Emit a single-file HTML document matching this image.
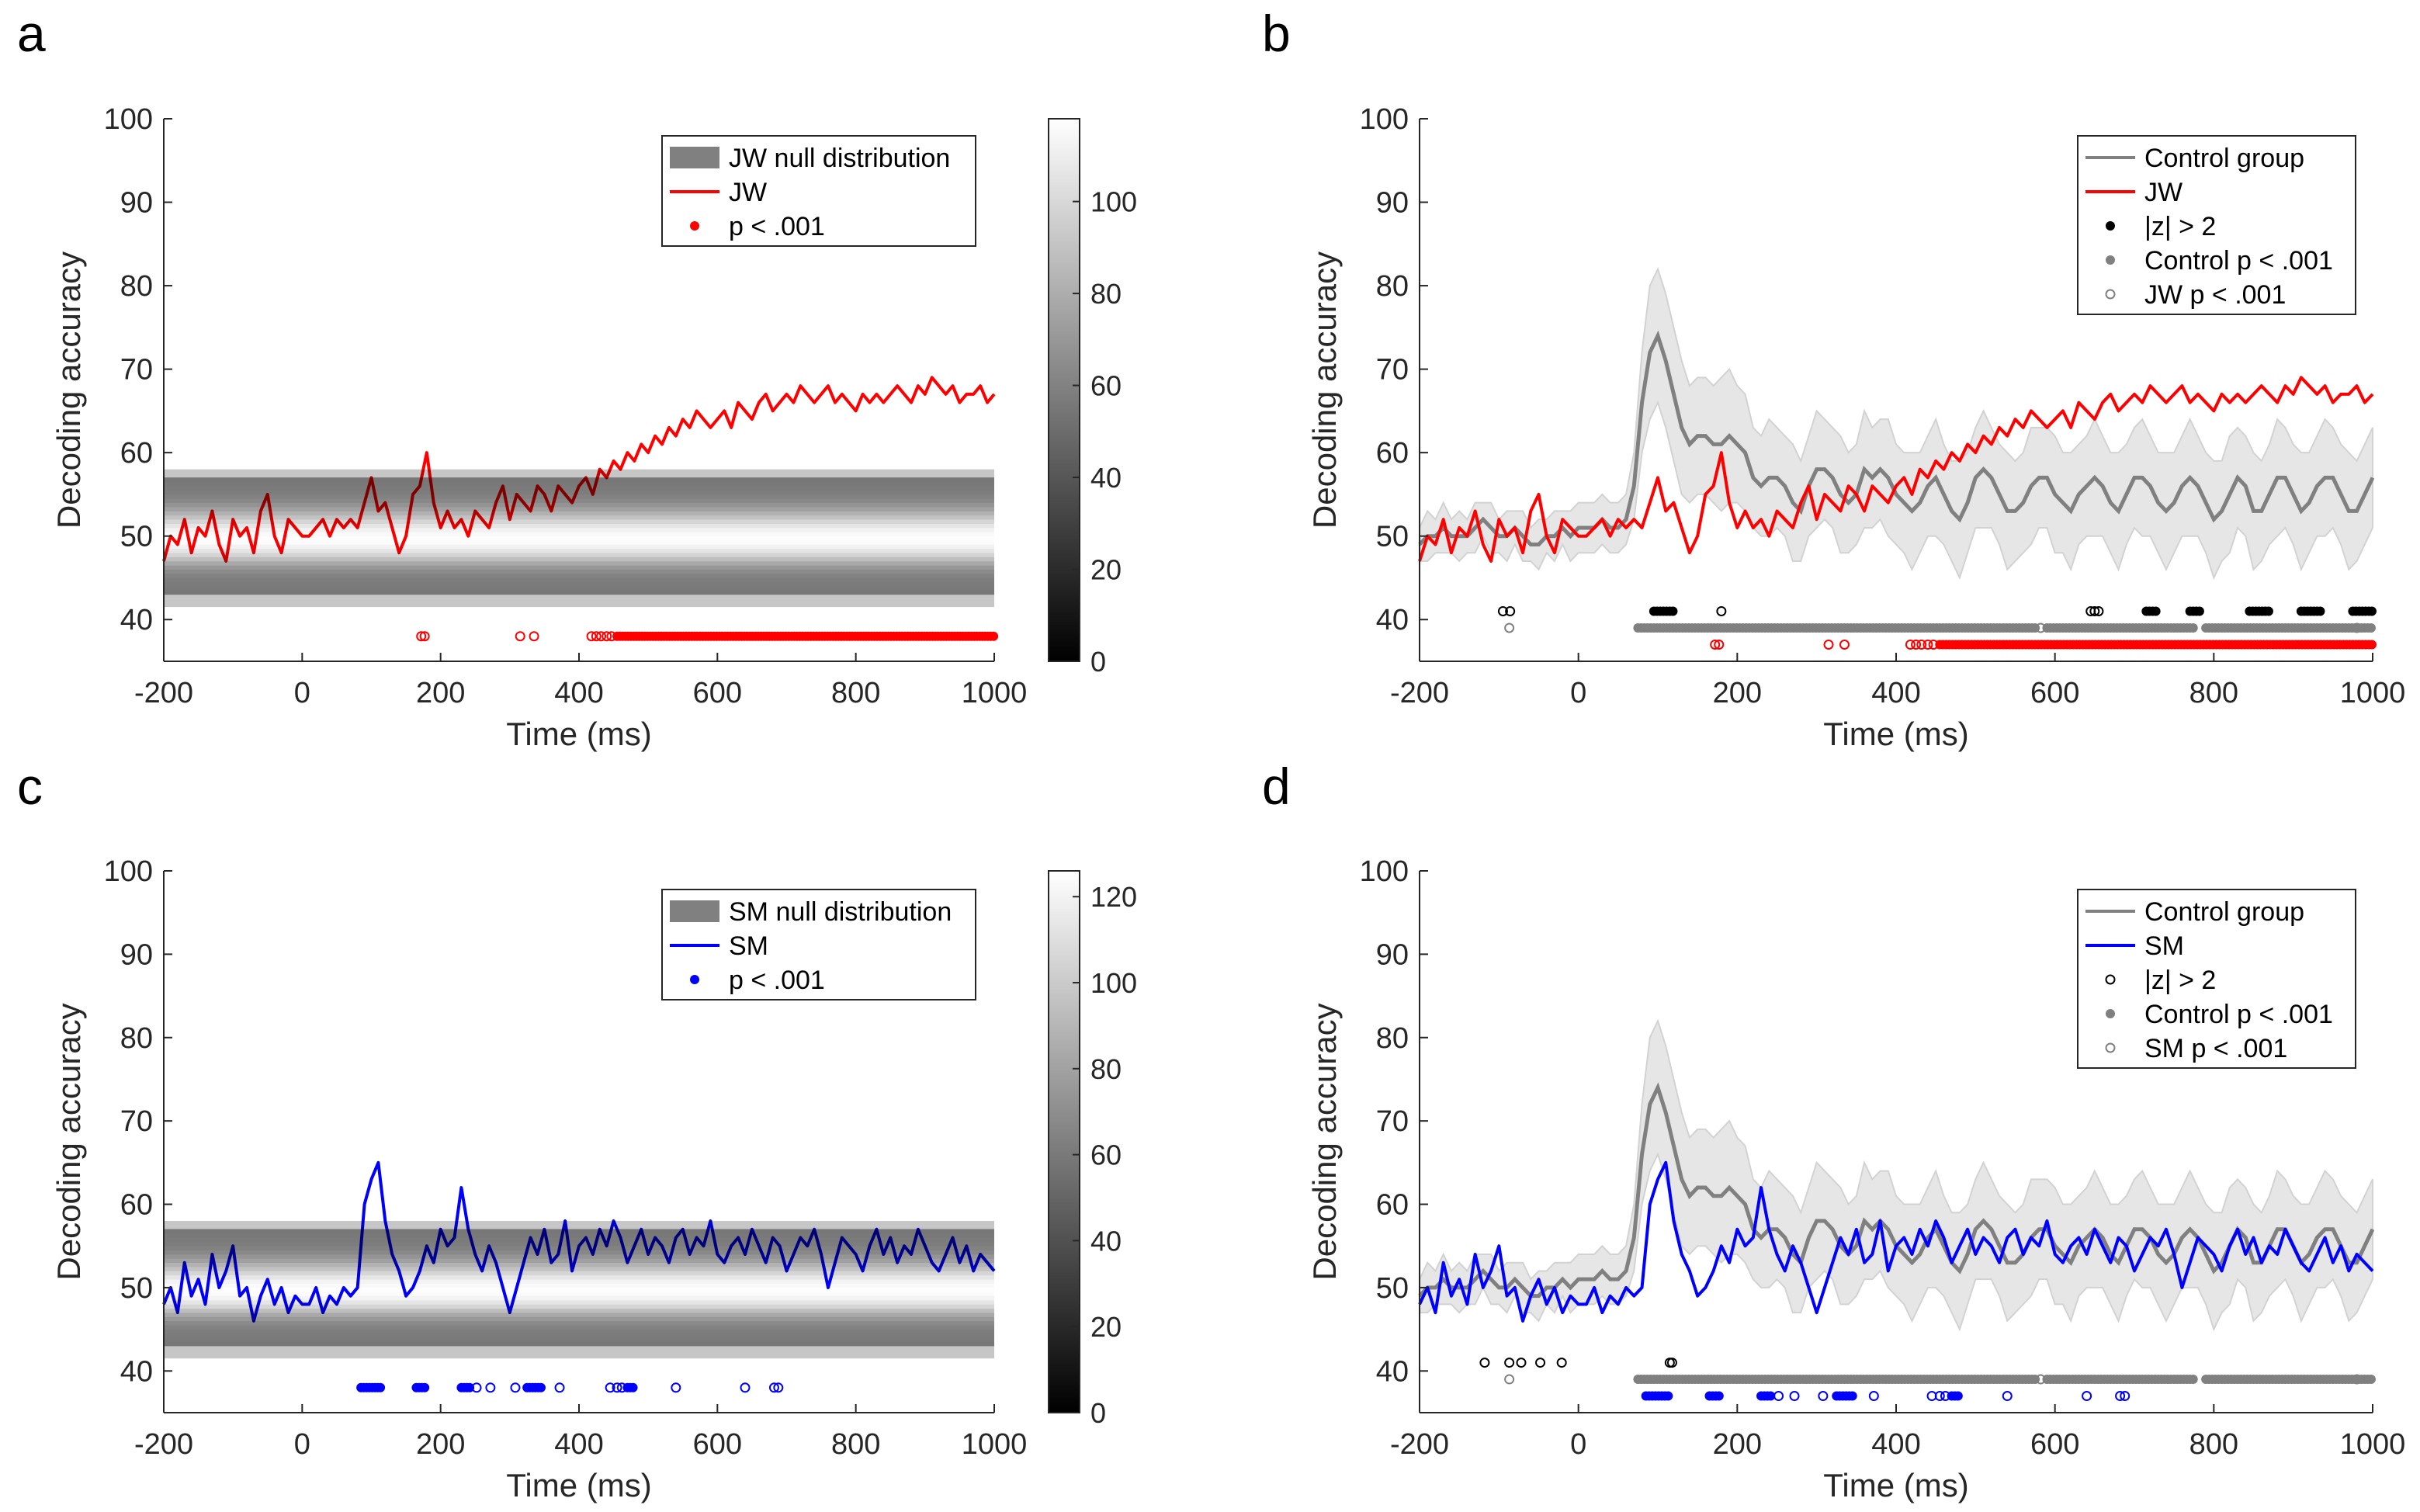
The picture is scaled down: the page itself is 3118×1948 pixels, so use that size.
<!DOCTYPE html>
<html><head><meta charset="utf-8"><style>
html,body{margin:0;padding:0;background:#fff;}
svg{display:block;font-family:"Liberation Sans",Arial,sans-serif;}
</style></head><body>
<svg id="fig" width="3118" height="1948" viewBox="0 0 3118 1948" xmlns="http://www.w3.org/2000/svg"></svg>
<script>
// ---------- data ----------
const times = []; for (let t=-200;t<=1000;t+=10) times.push(t);
const jwAcc = [47,50,49,52,48,51,50,53,49,47,52,50,51,48,53,55,50,48,52,51,50,
50,51,52,50,52,51,52,51,54,57,53,54,51,48,50,55,56,60,54,51,
53,51,52,50,53,52,51,54,56,52,55,54,53,56,55,53,56,55,54,56,
57,55,58,57,59,58,60,59,61,60,62,61,63,62,64,63,65,64,63,64,
65,63,66,65,64,66,67,65,66,67,66,68,67,66,67,68,66,67,66,65,
67,66,67,66,67,68,67,66,68,67,69,68,67,68,66,67,67,68,66,67];
const smAcc = [48,50,47,53,49,51,48,54,50,52,55,49,50,46,49,51,48,50,47,49,48,
48,50,47,49,48,50,49,50,60,63,65,58,54,52,49,50,52,55,53,57,
55,56,62,57,54,52,55,53,50,47,50,53,56,54,57,53,54,58,52,55,
56,54,57,55,58,56,53,55,57,54,56,55,53,56,57,54,56,55,58,54,
53,55,56,54,57,55,53,56,55,52,54,56,55,57,54,50,53,56,55,54,
52,55,57,54,56,53,55,54,57,55,53,52,54,56,53,55,52,54,53,52];
const ctrlMean = [49,50,50,51,50,50,50,51,52,51,50,50,51,50,49,49,50,50,51,50,51,
51,51,52,51,51,52,56,66,72,74,71,67,63,61,62,62,61,61,62,61,
60,57,56,57,57,56,54,53,56,58,58,57,55,54,55,58,57,58,57,55,
54,53,54,56,57,55,53,52,54,57,58,57,55,53,53,54,56,57,57,55,
54,53,55,56,57,56,54,53,55,57,57,56,54,53,54,56,57,56,54,52,
53,55,57,56,53,53,55,57,57,55,53,54,56,57,57,55,53,53,55,57];
const ctrlSd = [2,3,2,3,2,3,2,3,2,3,2,3,2,3,2,3,2,3,2,3,3,
3,3,3,3,3,3,4,6,8,8,8,8,8,7,7,7,7,8,8,7,
7,6,6,7,6,6,7,6,6,7,6,6,7,6,6,7,6,6,7,6,
6,7,6,6,7,6,6,7,6,6,7,6,6,7,6,6,7,6,6,7,
6,7,6,6,7,6,6,7,6,6,7,6,6,7,6,6,7,6,6,7,
6,7,6,6,7,6,6,7,6,6,7,6,6,7,6,6,7,6,6,6];
const nullBins = [43,43.5,44,44.5,45,45.5,46,46.5,47,47.5,48,48.5,49,49.5,50,50.5,51,51.5,52,52.5,53,53.5,54,54.5,55,55.5,56,56.5];
const nullCountsJW = [55,56,57,58,60,64,70,78,88,98,106,112,116,117,115,112,106,98,90,82,74,68,63,60,58,57,56,55];
const nullCountsSM = [59,60,61,62,64,68,75,83,94,105,113,120,124,125,123,120,113,105,96,88,79,73,67,64,62,61,60,59];
const nullSpeckleBins = [41.5,42,42.5,56.5+0.5,57.5];
const jwSigRuns = [[455,1000]];
const jwSigOpen = [172,177,315,335,418,425,432,440,447];
const smSigRuns = [[85,115],[165,180],[230,245],[325,345],[470,480]];
const smSigOpen = [252,272,308,372,445,455,462,540,640,682,688];
const zJWRuns = [[95,120],[715,730],[770,785],[845,870],[910,935],[975,1000]];
const zJWOpen = [-95,-86,180,645,650,655];
const zSMOpen = [-118,-87,-72,-48,-21,115,118];
const ctrlSigRuns = [[75,575],[590,775],[790,1000]];
const ctrlSigOpen = [-87,582,980];
const yTicks = [40,50,60,70,80,90,100];
const xTicks = [-200,0,200,400,600,800,1000];
const cbTicksA = [0,20,40,60,80,100];
const cbTicksC = [0,20,40,60,80,100,120];

const NS="http://www.w3.org/2000/svg";
const svgRoot=document.getElementById('fig');
function mk(tag,attrs,parent){const e=document.createElementNS(NS,tag);for(const k in attrs)e.setAttribute(k,attrs[k]);(parent||svgRoot).appendChild(e);return e;}
function txt(s,attrs,parent){const e=mk('text',attrs,parent);e.textContent=s;return e;}

function panel(P){
  const g=mk('g',{});
  
  
  const X=t=>P.x0+(t+200)/1200*(P.x1-P.x0);
  const Y=v=>P.yb-(v-35)/65*(P.yb-P.yt);
  if(P.control){
    let up='',lo='';
    times.forEach((t,i)=>{up+=(i?'L':'M')+X(t)+','+Y(ctrlMean[i]+ctrlSd[i]);});
    for(let i=times.length-1;i>=0;i--)lo+='L'+X(times[i])+','+Y(ctrlMean[i]-ctrlSd[i]);
    const band=mk('path',{d:up+lo+'Z',fill:'#e6e6e6',stroke:'#d2d2d2','stroke-width':2},g);
    
    
    const cl=mk('path',{d:times.map((t,i)=>(i?'L':'M')+X(t)+','+Y(ctrlMean[i])).join(''),fill:'none',stroke:'#808080','stroke-width':5},g);
    
    
  }
  const sl=mk('path',{d:times.map((t,i)=>(i?'L':'M')+X(t)+','+Y(P.series[i])).join(''),fill:'none',stroke:P.color,'stroke-width':4,'stroke-linejoin':'round'},g);
  
  
  if(P.nullCounts){
    const hm=mk('g',{style:'mix-blend-mode:multiply'},g);
    
    
    const mx=P.cbMax;
    nullBins.forEach((b,i)=>{
      const c=Math.round(255*Math.min(1,P.nullCounts[i]/mx));
      const r=mk('rect',{x:X(-200),y:Y(b+0.5)-0.3,width:X(1000)-X(-200),height:Y(b)-Y(b+0.5)+0.6,fill:`rgb(${c},${c},${c})`},hm);
      
      
    });
    nullSpeckleBins.forEach(b=>{
      const r=mk('rect',{x:X(-200),y:Y(b+0.5),width:X(1000)-X(-200),height:Y(b)-Y(b+0.5),fill:'#808080',opacity:0.45},hm);
      
      
    });
  }
  function markers(runs,opens,yv,col,name){
    const mg=mk('g',{},g);
    
    
    runs.forEach(r=>{for(let t=r[0];t<=r[1];t+=4)mk('circle',{cx:X(t),cy:Y(yv),r:6,fill:col},mg);});
    opens.forEach(t=>mk('circle',{cx:X(t),cy:Y(yv),r:5.5,fill:'none',stroke:col,'stroke-width':2},mg));
  }
  P.markers.forEach(m=>markers(m[0],m[1],m[2],m[3],m[4]));
  const ax=mk('g',{stroke:'#262626','stroke-width':2,fill:'none'},g);
  
  
  mk('line',{x1:P.x0,y1:P.yt,x2:P.x0,y2:P.yb},ax);
  mk('line',{x1:P.x0,y1:P.yb,x2:P.x1,y2:P.yb},ax);
  yTicks.forEach(v=>{mk('line',{x1:P.x0,y1:Y(v),x2:P.x0+11,y2:Y(v)},ax);
    const l=txt(v,{x:P.x0-14,y:Y(v)+13,'text-anchor':'end','font-size':38,fill:'#262626'},g);
    });
  xTicks.forEach(v=>{mk('line',{x1:X(v),y1:P.yb,x2:X(v),y2:P.yb-11},ax);
    const l=txt(v,{x:X(v),y:P.yb+53,'text-anchor':'middle','font-size':38,fill:'#262626'},g);
    });
  const xt=txt('Time (ms)',{x:(P.x0+P.x1)/2,y:P.yb+108,'text-anchor':'middle','font-size':42,fill:'#262626'},g);
  
  const ym=(P.yt+P.yb)/2;
  const yt=txt('Decoding accuracy',{x:P.x0-108,y:ym,'text-anchor':'middle','font-size':42,fill:'#262626',transform:`rotate(-90 ${P.x0-108} ${ym})`},g);
  
  const pl=txt(P.letter,{x:P.lx,y:P.ly,'font-size':66,fill:'#000'},g);
  
  if(P.cbMax){
    const cb=mk('g',{},g);
    
    const gid='grad'+P.letter;
    const d=mk('defs',{},cb);const lg=mk('linearGradient',{id:gid,x1:0,y1:1,x2:0,y2:0},d);
    mk('stop',{offset:0,'stop-color':'#000'},lg);mk('stop',{offset:1,'stop-color':'#fff'},lg);
    const cx=P.x1+70,cw=40;
    mk('rect',{x:cx,y:P.yt,width:cw,height:P.yb-P.yt,fill:`url(#${gid})`,stroke:'#262626','stroke-width':2},cb);
    P.cbTicks.forEach(v=>{const yy=P.yb-v/P.cbMax*(P.yb-P.yt);
      mk('line',{x1:cx+cw-9,y1:yy,x2:cx+cw,y2:yy,stroke:'#262626','stroke-width':2},cb);
      const l=txt(v,{x:cx+cw+14,y:yy+13,'font-size':36,fill:'#262626'},cb);
      });
  }
  const L=P.legend;
  const lgG=mk('g',{},g);
  
  mk('rect',{x:L.x,y:L.y,width:L.w,height:L.entries.length*44+10,fill:'#fff',stroke:'#262626','stroke-width':2},lgG);
  L.entries.forEach((e,i)=>{
    const cy=L.y+28+i*44;
    const eg=mk('g',{},lgG);
    
    const sx=L.x+10;
    if(e.type==='rect')mk('rect',{x:sx,y:cy-14,width:64,height:28,fill:'#808080'},eg);
    else if(e.type==='line')mk('line',{x1:sx,y1:cy,x2:sx+64,y2:cy,stroke:e.col,'stroke-width':4},eg);
    else if(e.type==='dot')mk('circle',{cx:sx+32,cy:cy,r:6,fill:e.col},eg);
    else mk('circle',{cx:sx+32,cy:cy,r:5.5,fill:'none',stroke:e.col,'stroke-width':2},eg);
    txt(e.label,{x:sx+76,y:cy+12,'font-size':34,fill:'#000'},eg);
  });
}
const ab={x0:211,x1:1281},bd={x0:1829,x1:3057};
const topRow={yt:153,yb:852},botRow={yt:1122,yb:1820};
panel({name:'panel-a',letter:'a',lx:22,ly:66,...ab,...topRow,series:jwAcc,seriesName:'jw',color:'#ff0000',
  nullCounts:nullCountsJW,cbMax:118,cbTicks:cbTicksA,
  markers:[[jwSigRuns,jwSigOpen,38,'#ff0000','jw-significance-markers']],
  legend:{x:853,y:175,w:404,entries:[{type:'rect',label:'JW null distribution'},{type:'line',col:'#ff0000',label:'JW'},{type:'dot',col:'#ff0000',label:'p < .001'}]}});
panel({name:'panel-b',letter:'b',lx:1626,ly:66,...bd,...topRow,series:jwAcc,seriesName:'jw',color:'#ff0000',control:true,
  markers:[[zJWRuns,zJWOpen,41,'#000','z-score-markers'],[ctrlSigRuns,ctrlSigOpen,39,'#808080','control-significance-markers'],[jwSigRuns,jwSigOpen,37,'#ff0000','jw-significance-markers']],
  legend:{x:2677,y:175,w:358,entries:[{type:'line',col:'#808080',label:'Control group'},{type:'line',col:'#ff0000',label:'JW'},{type:'dot',col:'#000',label:'|z| > 2'},{type:'dot',col:'#808080',label:'Control p < .001'},{type:'open',col:'#808080',label:'JW p < .001'}]}});
panel({name:'panel-c',letter:'c',lx:22,ly:1036,...ab,...botRow,series:smAcc,seriesName:'sm',color:'#0000ff',
  nullCounts:nullCountsSM,cbMax:126,cbTicks:cbTicksC,
  markers:[[smSigRuns,smSigOpen,38,'#0000ff','sm-significance-markers']],
  legend:{x:853,y:1146,w:404,entries:[{type:'rect',label:'SM null distribution'},{type:'line',col:'#0000ff',label:'SM'},{type:'dot',col:'#0000ff',label:'p < .001'}]}});
panel({name:'panel-d',letter:'d',lx:1626,ly:1036,...bd,...botRow,series:smAcc,seriesName:'sm',color:'#0000ff',control:true,
  markers:[[[],zSMOpen,41,'#000','z-score-markers'],[ctrlSigRuns,ctrlSigOpen,39,'#808080','control-significance-markers'],[smSigRuns,smSigOpen,37,'#0000ff','sm-significance-markers']],
  legend:{x:2677,y:1146,w:358,entries:[{type:'line',col:'#808080',label:'Control group'},{type:'line',col:'#0000ff',label:'SM'},{type:'open',col:'#000',label:'|z| > 2'},{type:'dot',col:'#808080',label:'Control p < .001'},{type:'open',col:'#808080',label:'SM p < .001'}]}});
</script>
</body></html>
